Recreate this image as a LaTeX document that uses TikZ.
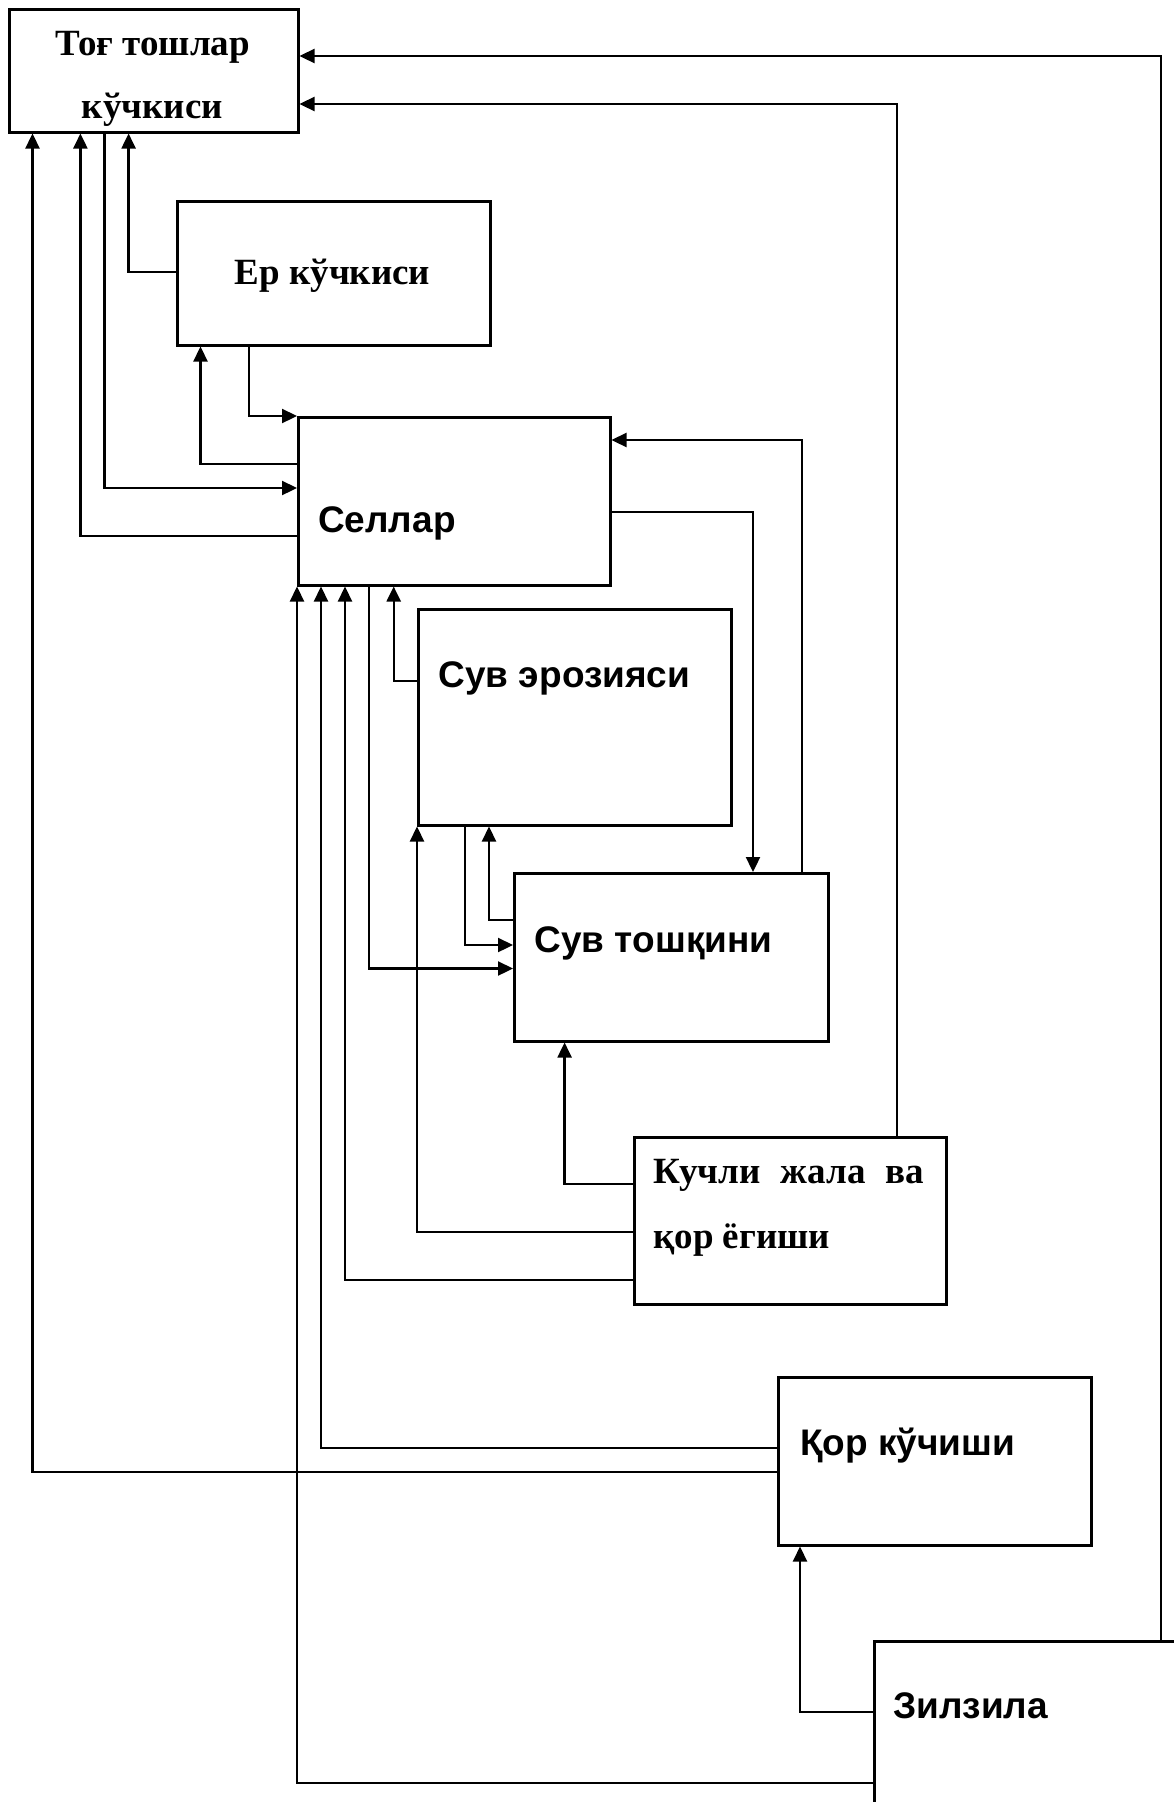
\documentclass[tikz,border=0pt]{standalone}
\usepackage{fontspec}
\setmainfont{Liberation Serif}
\setsansfont{Liberation Sans}
\usetikzlibrary{arrows.meta}
\begin{document}
\begin{tikzpicture}[x=1pt,y=-1pt,
  box/.style={draw, line width=2.5pt, inner sep=0pt, anchor=north west},
  conn/.style={line width=2.3pt, -{Triangle[length=15pt,width=14pt]}},
  ser/.style={font=\fontsize{37}{44}\selectfont\bfseries, inner sep=0pt, anchor=base},
  san/.style={font=\fontsize{37}{44}\sffamily\bfseries, inner sep=0pt, anchor=base west}]
\useasboundingbox (0,0) rectangle (1174,1802);
\fill[white] (0,0) rectangle (1174,1802);
\clip (0,0) rectangle (1174,1802);
% boxes
\node[box, minimum width=289pt, minimum height=123pt] (tog) at (8,8) {};
\node[box, minimum width=313pt, minimum height=144pt] (er) at (176,200) {};
\node[box, minimum width=312pt, minimum height=168pt] (sel) at (297,416) {};
\node[box, minimum width=313pt, minimum height=216pt] (ero) at (417,608) {};
\node[box, minimum width=314pt, minimum height=168pt] (tosh) at (513,872) {};
\node[box, minimum width=312pt, minimum height=167pt] (kuch) at (633,1136) {};
\node[box, minimum width=313pt, minimum height=168pt] (qor) at (777,1376) {};
\node[box, minimum width=360pt, minimum height=250pt] (zil) at (873,1640) {};
% texts
\node[ser] (t1) at (152.5,55) {Тоғ тошлар};
\node[ser] (t2) at (152.5,118) {кўчкиси};
\node[ser] (t3) at (332.5,284) {Ер кўчкиси};
\node[san] (t4) at (318,532) {Селлар};
\node[san] (t5) at (438.5,687) {Сув эрозияси};
\node[san] (t6) at (534.5,952) {Сув тошқини};
\node[ser, anchor=base west] (t7) at (653,1183) {\hbox to 271pt{Кучли\hfill жала\hfill ва}};
\node[ser, anchor=base west] (t8) at (653,1248) {қор ёгиши};
\node[san] (t9) at (800,1455) {Қор кўчиши};
\node[san] (t10) at (893,1718) {Зилзила};
% connectors
\draw[conn] (zil.north -| 1161,0) |- (tog.east |- 0,56);
\draw[conn] (kuch.north -| 897,0) |- (tog.east |- 0,104);
\draw[conn] (er.west |- 0,272) -| (tog.south -| 128.6,0);
\draw[conn] (tog.south -| 104.5,0) |- (sel.west |- 0,488);
\draw[conn] (sel.west |- 0,536) -| (tog.south -| 80.4,0);
\draw[conn] (qor.west |- 0,1472) -| (tog.south -| 32.5,0);
\draw[conn] (er.south -| 249,0) |- (sel.north west);
\draw[conn] (sel.west |- 0,464) -| (er.south -| 200.5,0);
\draw[conn] (sel.east |- 0,512) -| (tosh.north -| 753,0);
\draw[conn] (tosh.north -| 802,0) |- (sel.east |- 0,440);
\draw[conn] (ero.west |- 0,681) -| (sel.south -| 393.7,0);
\draw[conn] (sel.south -| 369,0) |- (tosh.west |- 0,968.5);
\draw[conn] (ero.south -| 465,0) |- (tosh.west |- 0,945);
\draw[conn] (tosh.west |- 0,920) -| (ero.south -| 489,0);
\draw[conn] (kuch.west |- 0,1184) -| (tosh.south -| 564.6,0);
\draw[conn] (kuch.west |- 0,1232) -| (ero.south west);
\draw[conn] (kuch.west |- 0,1280) -| (sel.south -| 345,0);
\draw[conn] (qor.west |- 0,1448) -| (sel.south -| 321,0);
\draw[conn] (zil.west |- 0,1783) -| (sel.south west);
\draw[conn] (zil.west |- 0,1712) -| (qor.south -| 800,0);
\end{tikzpicture}
\end{document}
